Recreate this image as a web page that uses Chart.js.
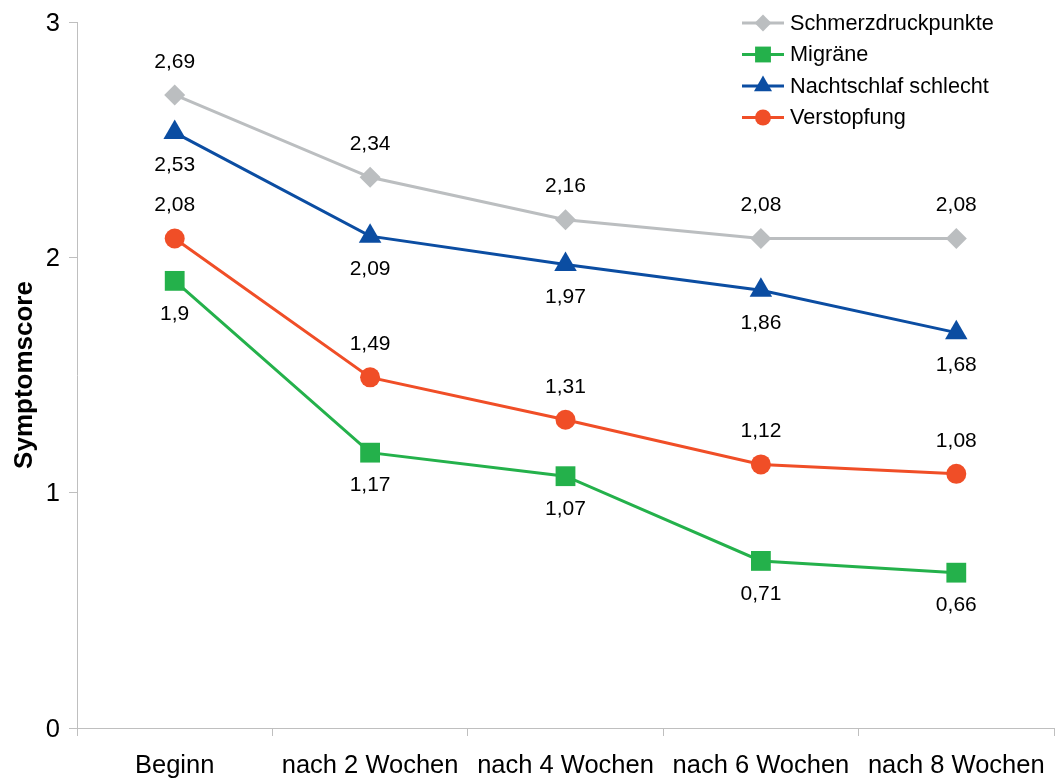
<!DOCTYPE html>
<html>
<head>
<meta charset="utf-8">
<script src="https://cdn.jsdelivr.net/npm/chart.js@4"></script>
<style>
    html, body { margin: 0; padding: 0; background: #fff; }
    #wrap { width: 1055px; height: 781px; }
</style>
</head>
<body>
<div id="wrap"><canvas id="myLineChart"></canvas></div>
<script>
const kategorien = ['Beginn', 'nach 2 Wochen', 'nach 4 Wochen', 'nach 6 Wochen', 'nach 8 Wochen'];
const serienNamen = ['Schmerzdruckpunkte', 'Migräne', 'Nachtschlaf schlecht', 'Verstopfung'];
const schmerzdruckpunkte = [2.69, 2.34, 2.16, 2.08, 2.08];
const migraene = [1.9, 1.17, 1.07, 0.71, 0.66];
const nachtschlaf = [2.53, 2.09, 1.97, 1.86, 1.68];
const verstopfung = [2.08, 1.49, 1.31, 1.12, 1.08];
const yTicks = [0, 1, 2, 3];

const FONT = '"Liberation Sans", Arial, sans-serif';

// Beschriftung oben (-1) oder unten (+1)
const labelSeite = [-1, 1, 1, -1];

const datenLabels = {
    id: 'datenLabels',
    afterDatasetsDraw(chart) {
        const ctx = chart.ctx;
        ctx.save();
        ctx.font = '21px ' + FONT;
        ctx.fillStyle = '#000';
        ctx.textAlign = 'center';
        ctx.textBaseline = 'middle';
        chart.data.datasets.forEach((ds, i) => {
            const meta = chart.getDatasetMeta(i);
            meta.data.forEach((pt, j) => {
                const txt = String(ds.data[j]).replace('.', ',');
                ctx.fillText(txt, pt.x, pt.y + labelSeite[i] * 33);
            });
        });
        ctx.restore();
    }
};

const legende = {
    id: 'legende',
    afterDraw(chart) {
        const ctx = chart.ctx;
        ctx.save();
        chart.data.datasets.forEach((ds, i) => {
            const y = 23 + i * 31.5;
            ctx.strokeStyle = ds.borderColor;
            ctx.lineWidth = 3;
            ctx.beginPath();
            ctx.moveTo(742, y);
            ctx.lineTo(784, y);
            ctx.stroke();
            ctx.fillStyle = ds.backgroundColor;
            Chart.helpers.drawPoint(ctx, {
                pointStyle: ds.pointStyle,
                radius: ds.pointRadius * 0.8,
                borderWidth: 0
            }, 763, y);
            ctx.fillStyle = '#000';
            ctx.font = '21.7px ' + FONT;
            ctx.textAlign = 'left';
            ctx.textBaseline = 'middle';
            ctx.fillText(ds.label, 790, y + 1);
        });
        ctx.restore();
    }
};

const ctx = document.getElementById('myLineChart').getContext('2d');
const myLineChart = new Chart(ctx, {
    type: 'line',
    data: {
        labels: kategorien,
        datasets: [
            {
                label: serienNamen[0],
                data: schmerzdruckpunkte,
                borderColor: '#BBBEC0',
                backgroundColor: '#BBBEC0',
                pointStyle: 'rectRot',
                pointRadius: 10.5
            },
            {
                label: serienNamen[1],
                data: migraene,
                borderColor: '#24B14B',
                backgroundColor: '#24B14B',
                pointStyle: 'rect',
                pointRadius: 14
            },
            {
                label: serienNamen[2],
                data: nachtschlaf,
                borderColor: '#0B4DA2',
                backgroundColor: '#0B4DA2',
                pointStyle: 'triangle',
                pointRadius: 13
            },
            {
                label: serienNamen[3],
                data: verstopfung,
                borderColor: '#F04E27',
                backgroundColor: '#F04E27',
                pointStyle: 'circle',
                pointRadius: 10
            }
        ]
    },
    options: {
        responsive: true,
        maintainAspectRatio: false,
        animation: false,
        datasets: {
            line: {
                borderWidth: 3,
                pointBorderWidth: 0,
                tension: 0,
                clip: false
            }
        },
        layout: {
            autoPadding: false,
            padding: { top: 22, right: 1, left: 0, bottom: 0 }
        },
        plugins: {
            legend: { display: false },
            tooltip: { enabled: false }
        },
        scales: {
            x: {
                offset: true,
                grid: {
                    offset: true,
                    drawOnChartArea: false,
                    drawTicks: true,
                    tickLength: 8,
                    color: '#BFBFBF'
                },
                border: { color: '#BFBFBF', width: 1 },
                ticks: {
                    color: '#000',
                    font: { family: FONT, size: 25.5 },
                    padding: 15,
                    maxRotation: 0,
                    autoSkip: false
                },
                afterFit(scale) {
                    scale.height = 53;
                    scale.paddingLeft = 0;
                    scale.paddingRight = 0;
                }
            },
            y: {
                min: 0,
                max: 3,
                afterBuildTicks(scale) {
                    scale.ticks = yTicks.map(v => ({ value: v }));
                },
                grid: {
                    drawOnChartArea: false,
                    drawTicks: true,
                    tickLength: 8,
                    color: '#BFBFBF'
                },
                border: { color: '#BFBFBF', width: 1 },
                ticks: {
                    color: '#000',
                    font: { family: FONT, size: 25.5 },
                    padding: 9,
                    labelOffset: 1.5
                },
                title: {
                    display: true,
                    text: 'Symptomscore',
                    color: '#000',
                    font: { family: FONT, size: 26, weight: 'bold' },
                    padding: { top: 9, bottom: 0 }
                },
                afterFit(scale) {
                    scale.width = 77;
                    scale.paddingTop = 0;
                    scale.paddingBottom = 0;
                }
            }
        }
    },
    plugins: [datenLabels, legende]
});
</script>
</body>
</html>
